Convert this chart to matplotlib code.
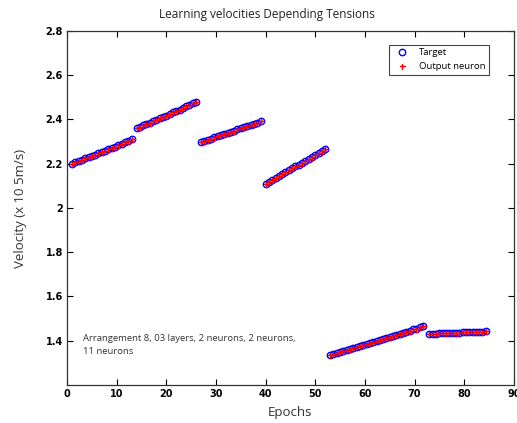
import numpy as np
import matplotlib
matplotlib.use('Agg')
import matplotlib.pyplot as plt

# sampling of each training run, three samples per two epochs
epochs1 = 1 + np.arange(19) * 2 / 3
epochs2 = 14 + np.arange(19) * 2 / 3
epochs3 = 27 + np.arange(19) * 2 / 3
epochs4 = 40 + np.arange(19) * 2 / 3
epochs5 = 53 + np.arange(29) * 2 / 3
epochs6 = 73 + np.arange(18) * 2 / 3

target1 = [2.200, 2.206, 2.211, 2.218, 2.224, 2.229, 2.236, 2.241, 2.247, 2.254,
           2.259, 2.265, 2.272, 2.277, 2.283, 2.290, 2.296, 2.303, 2.310]
target2 = [2.360, 2.366, 2.373, 2.379, 2.386, 2.392, 2.399, 2.405, 2.412, 2.418,
           2.425, 2.432, 2.438, 2.445, 2.452, 2.459, 2.466, 2.473, 2.481]
target3 = [2.300, 2.304, 2.309, 2.314, 2.319, 2.324, 2.329, 2.334, 2.339, 2.344,
           2.349, 2.355, 2.360, 2.365, 2.370, 2.375, 2.380, 2.386, 2.391]
target4 = [2.110, 2.118, 2.127, 2.136, 2.144, 2.153, 2.162, 2.170, 2.179, 2.188,
           2.196, 2.205, 2.214, 2.223, 2.231, 2.240, 2.249, 2.258, 2.267]
target5 = [1.336, 1.340, 1.345, 1.349, 1.354, 1.358, 1.363, 1.367, 1.372, 1.377,
           1.381, 1.386, 1.390, 1.395, 1.400, 1.404, 1.409, 1.413, 1.418, 1.423,
           1.427, 1.432, 1.437, 1.441, 1.446, 1.451, 1.455, 1.460, 1.465]
target6 = [1.430, 1.431, 1.432, 1.433, 1.434, 1.435, 1.435, 1.436, 1.437, 1.437,
           1.438, 1.439, 1.439, 1.440, 1.440, 1.441, 1.441, 1.442]

epochs = np.concatenate([epochs1, epochs2, epochs3, epochs4, epochs5, epochs6])
target = np.concatenate([target1, target2, target3, target4, target5, target6])
# the trained network reproduces the target velocities
output = target.copy()

fig = plt.figure(figsize=(5.17, 4.23), dpi=100)
ax = fig.add_axes([0.1296, 0.09, 0.8644, 0.8367])

ax.plot(epochs, target, 'o', color='blue', markerfacecolor='none',
        markersize=4.6, markeredgewidth=1.0, label='Target')
ax.plot(epochs, output, linestyle='none', marker=(4, 2, 0), color='red',
        markersize=3.6, markeredgewidth=0.9, label='Output neuron')

ax.set_xlim(0, 90)
ax.set_ylim(1.2, 2.8)
ax.set_xticks(np.arange(0, 91, 10))
ax.set_yticks([1.4, 1.6, 1.8, 2.0, 2.2, 2.4, 2.6, 2.8])
ax.set_yticklabels(['1.4', '1.6', '1.8', '2', '2.2', '2.4', '2.6', '2.8'])
ax.tick_params(direction='in', top=True, right=True, length=4, width=0.8,
               labelsize=7, pad=3)
for lab in ax.get_xticklabels() + ax.get_yticklabels():
    lab.set_fontweight('bold')
for sp in ax.spines.values():
    sp.set_linewidth(0.9)
    sp.set_color('#333333')

ax.set_xlabel('Epochs', fontsize=9.5, family='Open Sans', color='#333333', labelpad=5)
ax.set_ylabel('Velocity (x 10 5m/s)', fontsize=9.5, family='Open Sans', color='#333333', labelpad=13)
fig.text(0.517, 0.965, 'Learning velocities Depending Tensions', ha='center',
         va='center', fontsize=8.5, family='Open Sans', color='#222222')

ax.text(3.3, 1.43, 'Arrangement 8, 03 layers, 2 neurons, 2 neurons,\n11 neurons',
        fontsize=6.8, family='Open Sans', color='#333333', va='top', linespacing=1.5)

leg = ax.legend(loc='upper right', bbox_to_anchor=(0.955, 0.975),
                prop={'family': 'Open Sans', 'size': 6.8}, fancybox=False,
                edgecolor='#444444', framealpha=1, handletextpad=0.8,
                borderpad=0.4, labelspacing=0.5)
leg.get_frame().set_linewidth(0.8)

fig.savefig('out.png', dpi=100)
